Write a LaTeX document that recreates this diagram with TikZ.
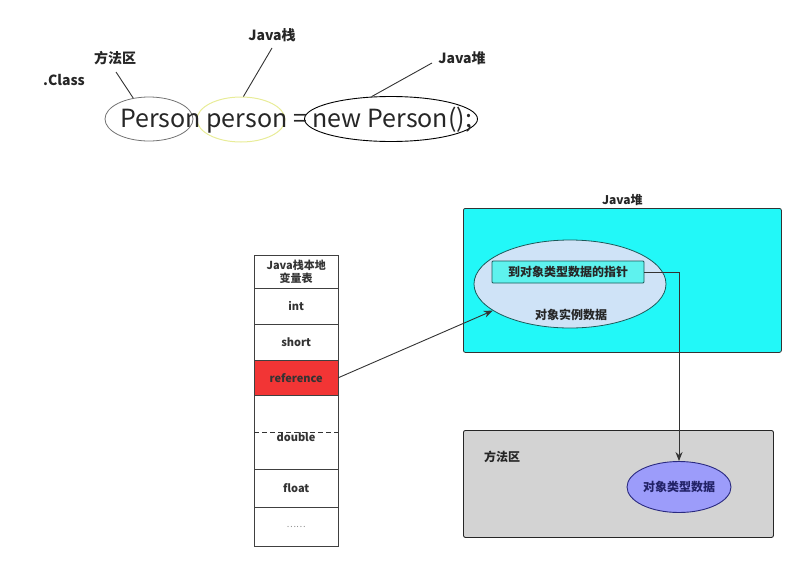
\documentclass[tikz,border=0pt]{standalone}
\usepackage{fontspec}
\setmainfont{Noto Sans CJK SC}
\usetikzlibrary{shapes.geometric,arrows.meta,calc}
\definecolor{heapcyan}{HTML}{22F8F8}
\definecolor{instblue}{HTML}{CFE3F7}
\definecolor{ptrfill}{HTML}{5EF2EE}
\definecolor{ptrdraw}{HTML}{1A5A5A}
\definecolor{mgray}{HTML}{D3D3D3}
\definecolor{typeblue}{HTML}{9C9CFA}
\definecolor{typedraw}{HTML}{2A2A80}
\definecolor{refred}{HTML}{F23535}
\definecolor{ylw}{HTML}{E8EC98}
\begin{document}
\begin{tikzpicture}[x=1pt,y=-1pt,
  lbl/.style={font=\bfseries\fontsize{12}{14}\selectfont, inner sep=1pt, text=black!85},
  toplbl/.style={font=\bfseries\fontsize{14}{16}\selectfont, inner sep=1pt, text=black!85},
  big/.style={font=\fontsize{25}{28}\selectfont, inner sep=0pt, text=black!85},
  ell/.style={ellipse, draw, inner sep=0pt},
  cell/.style={draw=black!75, minimum width=84pt, inner sep=0pt, anchor=north west,
               font=\bfseries\fontsize{11}{14}\selectfont, text=black!80, align=center},
  conn/.style={draw=black!80, line width=0.9pt},
  arr/.style={conn, -{Stealth[length=9pt,width=7pt]}}
]
\useasboundingbox (0,0) rectangle (800,565);

% ---- top: code line ----
\node[toplbl] (cls) at (64,80) {.Class};
\node[toplbl] (ffq) at (115,58) {方法区};
\node[toplbl] (jz) at (272,35) {Java栈};
\node[toplbl] (jd) at (462,58) {Java堆};

\node[ell, draw=black!55, line width=0.8pt, minimum width=88pt, minimum height=44pt] (e1) at (149,119) {};
\node[ell, draw=ylw, line width=1pt, minimum width=88pt, minimum height=45pt] (e2) at (241,119.5) {};
\node[ell, draw=black, line width=0.9pt, minimum width=173pt, minimum height=45pt] (e3) at (391,119) {};
\node[big] (code) at (296,120) {Person person = new Person();};

\coordinate (c1) at (116,72);
\coordinate (c2) at (272,48);
\coordinate (c3) at (432,63);
\draw[conn] (e1.127) -- (c1);
\draw[conn] (e2.84) -- (c2);
\draw[conn] (e3.131) -- (c3);

% ---- local variable table ----
\node[cell, minimum height=33pt] (hdr) at (254,255) {Java栈本地\\[-1pt]变量表};
\node[cell, minimum height=36pt] (cint) at (254,288) {int};
\node[cell, minimum height=36pt] (cshort) at (254,324) {short};
\node[cell, minimum height=35pt, fill=refred] (cref) at (254,360) {reference};
\node[cell, minimum height=74pt] (cdbl) at (254,395) {};
\draw[black!80, line width=1pt, dash pattern=on 5pt off 3pt] (cdbl.west) -- (cdbl.east);
\node[font=\bfseries\fontsize{11}{13}\selectfont, text=black!80, inner sep=1pt] (tdbl) at (296,437) {double};
\node[cell, minimum height=38pt] (cflt) at (254,469) {float};
\node[cell, minimum height=39pt, font=\fontsize{9}{10}\selectfont, text=black!45] (cdots) at (254,507) {……};

% ---- Java heap ----
\node[draw=black!80, fill=heapcyan, rounded corners=2pt, line width=0.8pt,
      minimum width=318pt, minimum height=144pt, anchor=north west] (heap) at (463,208) {};
\node[lbl, above=1pt] (heaplbl) at (heap.north) {Java堆};
\node[ell, draw=ptrdraw, fill=instblue, line width=0.8pt, minimum width=192pt, minimum height=88pt] (inst) at (570,284) {};
\node[lbl] (instlbl) at (571,315) {对象实例数据};
\node[draw=ptrdraw, fill=ptrfill, line width=0.9pt, rounded corners=1pt,
      minimum width=152pt, minimum height=22pt, lbl] (ptr) at (568,272) {到对象类型数据的指针};

% ---- method area ----
\node[draw=black!85, fill=mgray, rounded corners=2pt, line width=0.9pt,
      minimum width=310pt, minimum height=107pt, anchor=north west] (ma) at (463,430) {};
\node[lbl] (malbl) at (502,457) {方法区};
\node[ell, draw=typedraw, fill=typeblue, line width=0.9pt, minimum width=104pt, minimum height=51pt,
      font=\bfseries\fontsize{12}{14}\selectfont, text=typedraw!80!black] (ctype) at (679,487) {对象类型数据};

% ---- connectors ----
\draw[arr] (cref.east) -- (inst.199);
\draw[arr] (ptr.east) -| (ctype.north);
\end{tikzpicture}
\end{document}
